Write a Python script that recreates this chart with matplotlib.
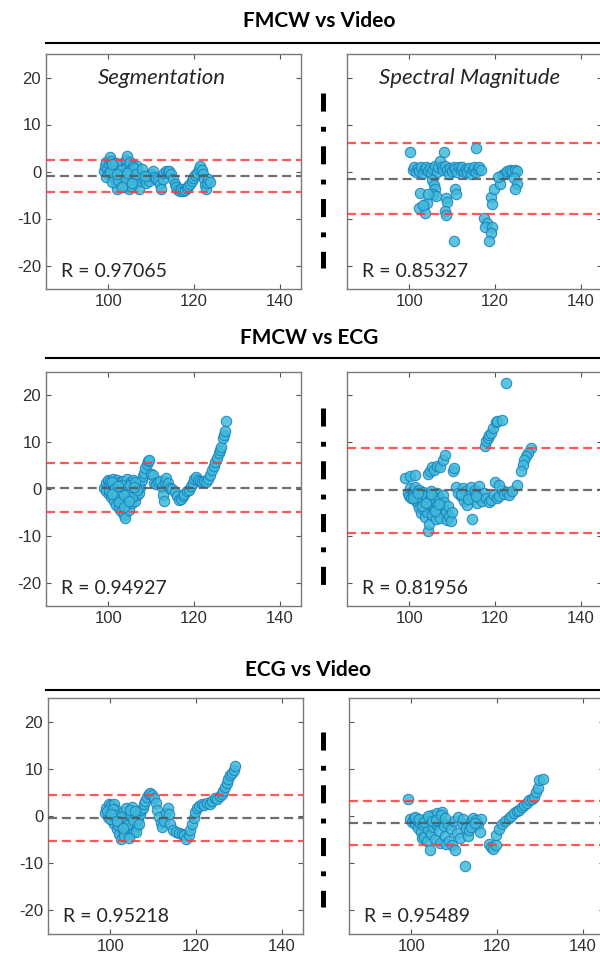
import matplotlib
matplotlib.use("Agg")
import matplotlib.pyplot as plt
from matplotlib.lines import Line2D

plt.rcParams["lines.scale_dashes"] = False
plt.rcParams["axes.unicode_minus"] = False

# Bland-Altman style panels: x = mean HR, y = difference

# FMCW vs Video, segmentation
seg_fv_x = [99.0, 99.3, 99.5, 99.8, 100.0, 100.2, 100.5, 100.7, 100.9, 101.1, 101.3, 101.5, 101.7, 101.9,
            102.1, 102.3, 102.5, 102.7, 102.9, 103.1, 103.3, 103.5, 103.7, 103.9, 104.1, 104.3, 104.5,
            104.7, 104.9, 105.1, 105.3, 105.5, 105.7, 105.9, 106.1, 106.4, 106.7, 107.0, 107.3, 107.6,
            108.0, 108.4, 108.8, 109.2, 109.6, 110.0, 110.4, 110.8, 111.2, 111.6, 112.0, 112.3, 112.7,
            113.1, 113.5, 113.9, 114.3, 114.7, 115.1, 115.5, 115.9, 116.3, 116.7, 117.1, 117.5, 117.9,
            118.3, 118.7, 119.1, 119.5, 119.9, 120.3, 120.7, 121.1, 121.5, 121.8, 122.1, 122.4, 122.6,
            122.8, 123.1, 123.4, 123.7,
            99.6, 100.4, 101.0, 101.8, 102.4, 103.0, 103.6, 104.2, 104.8, 105.4, 106.0, 100.8,
            102.0, 103.2, 104.4, 105.6, 106.6, 107.8, 108.6]
seg_fv_y = [0.2, 1.2, 2.0, 0.5, -0.5, 1.5, 3.1, 2.2, 0.8, -0.8, 1.0, -1.5, 0.3, -2.5,
            -3.8, -1.0, 0.6, 1.4, -0.3, -2.0, 0.9, 1.8, -0.6, -3.2, 2.5, 3.2, 1.0,
            -1.2, -3.8, 2.0, 0.2, -1.8, 1.2, -0.4, -2.6, 0.6, 1.2, -1.5, -3.8, -2.0,
            -0.8, -1.6, -2.4, -1.0, -2.0, -0.5, 0.1, -1.2, -1.6, -2.0, -2.6, -3.8, -1.5,
            -0.4, 0.1, -0.2, 0.1, -0.5, -1.6, -2.6, -3.4, -4.0, -4.2, -3.8, -4.2, -4.0,
            -3.6, -3.0, -2.6, -2.0, -1.4, -0.8, -0.3, 0.6, 1.2, 0.4, -0.6, -1.5, -2.8,
            -3.8, -2.5, -1.6, -2.2,
            -1.2, 0.0, -2.2, 1.8, -1.8, 0.4, -2.8, -1.6, 0.2, -3.0, 0.8, 1.6,
            -0.6, -3.4, -0.4, -2.4, -0.6, 0.6, -1.0]

# FMCW vs Video, spectral magnitude
spec_fv_x = [100.8, 101.2, 101.6, 102.0, 102.4, 102.8, 103.2, 103.6, 104.0, 104.4, 104.8, 105.2,
             105.6, 106.0, 106.4, 106.8, 107.2, 107.6, 108.0, 108.4, 108.8, 109.2, 109.6, 110.0,
             110.4, 110.8, 111.2, 111.6, 112.0, 112.4, 112.8, 113.2, 113.6, 114.0, 114.4, 114.8,
             115.2, 115.6, 116.0, 116.4, 116.8,
             100.2, 108.2, 115.7, 105.4, 105.8, 106.0, 105.6, 106.2, 102.6, 104.1, 102.2, 103.7,
             103.3, 104.4, 110.7, 110.9, 108.6, 108.8, 108.3, 108.6, 110.5, 117.4, 118.2, 117.8,
             119.4, 119.0, 118.6, 119.0, 119.4, 119.8, 121.3, 121.7, 122.3, 122.9, 123.5, 124.1,
             124.7, 125.2, 124.4, 125.2, 124.8, 120.8]
spec_fv_y = [0.3, 1.0, 0.0, 0.8, 0.2, 1.0, -0.3, 0.6, 1.0, 0.1, 0.8, -0.4,
             0.5, 1.2, 0.0, 0.9, 2.2, 1.0, 0.4, 1.1, 0.3, -0.5, 0.8, 0.2,
             1.0, 0.6, 0.0, 0.9, 0.3, 1.0, -0.2, 0.5, 0.0, 0.8, -0.6, 0.3,
             0.9, 0.0, 0.5, 1.0, 0.4,
             4.2, 4.2, 5.0, -1.8, -2.8, -3.8, -4.8, -5.3, -4.5, -6.7, -7.7, -8.8,
             -7.2, -4.8, -3.7, -4.8, -5.6, -6.5, -8.3, -9.2, -14.8, -9.8, -10.9, -11.9,
             -11.9, -13.0, -14.8, -5.5, -6.9, -3.7, -2.6, -0.8, -0.3, 0.2, 0.3, 0.2,
             0.3, 0.2, -1.3, -2.6, -3.7, -1.2]

# FMCW vs ECG, segmentation
seg_fe_x = [99.1, 99.4, 99.6, 99.9, 100.1, 100.3, 100.5, 100.7, 100.9, 101.1, 101.3, 101.5, 101.7,
            101.9, 102.1, 102.3, 102.5, 102.7, 102.9, 103.1, 103.3, 103.5, 103.7, 103.9, 104.1, 104.3,
            104.5, 104.7, 104.9, 105.1, 105.3, 105.5, 105.7, 105.9, 106.1, 106.3, 106.5, 106.7, 106.9,
            107.1, 107.3, 107.5, 107.8, 108.1, 108.4, 108.7, 109.0, 109.3, 109.6, 110.0, 110.4, 110.8,
            111.2, 111.6, 112.0, 112.5, 112.8, 113.0, 113.3, 113.6, 114.0, 114.5, 115.0, 115.5, 116.0,
            116.5, 117.0, 117.4, 117.8, 118.3, 118.9, 119.3, 119.7, 120.1, 120.5, 120.9, 121.4, 121.9,
            122.4, 122.9, 123.4, 123.8, 124.2, 124.6, 125.0, 125.4, 125.8, 126.1, 126.4, 126.7, 127.0,
            127.3, 127.6,
            100.2, 100.8, 101.4, 102.0, 102.6, 103.2, 103.8, 104.4, 105.0, 105.6, 106.2, 106.8,
            101.0, 102.4, 103.6, 104.8, 106.0]
seg_fe_y = [0.3, 1.2, -0.5, 2.0, 0.8, -1.0, 1.8, -1.8, 0.4, 2.2, -2.6, 1.0, -0.6,
            -3.4, 2.0, 0.0, -4.0, 1.5, -1.5, -4.8, -2.2, 1.8, -5.6, -6.1, -3.5, 0.5,
            2.1, -2.0, -4.5, -0.8, 1.5, -3.0, 2.0, -1.5, -0.2, -2.6, 1.0, -1.2, 0.3,
            -0.8, 1.2, 0.4, 2.0, 2.8, 3.5, 4.5, 5.3, 6.0, 6.3, 3.2, 3.0, 1.3,
            1.0, 1.6, 1.8, 0.5, -1.2, -2.6, 1.5, 2.3, 1.2, 0.3, 0.0, -0.7, -1.5,
            -2.3, -2.1, -1.4, -1.0, -0.4, -0.3, 0.6, 1.3, 2.2, 2.6, 2.0, 1.7, 1.6,
            1.7, 1.5, 2.2, 3.0, 4.0, 4.9, 5.8, 6.7, 7.6, 8.4, 9.0, 10.8, 11.6,
            12.4, 14.5,
            -0.2, 1.4, 0.0, -1.2, -2.8, 0.8, -3.8, -1.0, 0.8, -1.8, 1.6, -0.2,
            -1.0, 0.6, -1.2, -2.6, 0.4]

# FMCW vs ECG, spectral magnitude
spec_fe_x = [99.7, 100.0, 100.3, 100.5, 100.8, 101.0, 101.3, 101.5, 101.7, 102.0, 102.2, 102.4,
             102.6, 102.8, 103.0, 103.2, 103.4, 103.6, 103.8, 104.0, 104.2, 104.4, 104.6, 104.8,
             105.0, 105.2, 105.4, 105.6, 105.8, 106.0, 106.2, 106.4, 106.6, 106.8, 107.0, 107.3,
             107.6, 107.9, 108.2, 108.5, 108.8, 109.1, 109.4, 109.7, 110.0,
             111.0, 111.5, 112.0, 112.5, 112.8, 113.2, 113.6, 114.0, 114.4, 114.7, 115.0, 115.4,
             115.8, 116.2, 116.6, 117.0, 117.5, 118.0, 118.6, 119.2, 119.8, 120.4, 121.0, 121.6,
             122.2, 122.8, 123.4, 124.0, 125.2,
             99.0, 100.2, 101.4, 104.5, 104.9, 105.3, 105.8, 106.5, 107.3, 108.0, 108.4, 110.3,
             110.5, 120.0, 120.9, 117.8, 118.0, 118.3, 118.6, 119.0, 119.5, 120.2, 120.6, 121.6,
             122.7, 128.5, 127.8, 127.2, 126.8, 126.6, 126.1,
             101.0, 102.0, 103.0, 104.0, 105.0, 106.0, 107.0, 112.2, 113.8, 115.6]
spec_fe_y = [-0.8, -1.5, 0.2, -2.0, -0.5, -1.2, 0.4, -2.5, -1.0, -3.2, -0.3, -4.0,
             -1.8, -5.2, -2.6, -0.6, -4.4, -3.0, -6.0, -1.4, -5.0, -8.9, -7.4, -2.2,
             -3.6, -0.4, -5.6, -1.6, -4.2, -2.8, -6.4, -0.8, -3.4, -5.2, -2.0, -6.2,
             -4.0, -1.2, -2.8, -5.0, -6.6, -3.6, -5.8, -6.8, -5.0,
             0.5, -0.8, -1.6, 0.2, -2.6, -0.5, -3.4, -1.2, 0.4, -6.4, -2.2, -0.2,
             -3.0, 0.6, -1.8, -2.6, -0.9, -2.0, -2.8, -2.4, -1.2, -2.0, -1.6, -0.2,
             -1.0, -0.6, -1.2, -0.5, 0.8,
             2.4, 2.8, 2.9, 3.1, 3.8, 4.8, 4.0, 5.0, 4.8, 6.3, 7.3, 3.8,
             4.4, 1.5, 0.9, 9.2, 10.3, 11.0, 11.5, 12.0, 13.0, 14.3, 14.5, 14.8,
             22.7, 8.8, 7.7, 7.0, 6.3, 5.2, 3.8,
             -2.0, -0.8, -3.6, -3.0, -1.0, -4.6, -3.2, -1.0, -2.2, -1.4]

# ECG vs Video, segmentation
seg_ev_x = [98.8, 99.1, 99.4, 99.7, 100.0, 100.2, 100.5, 100.8, 101.0, 101.3, 101.5, 101.8, 102.0,
            102.3, 102.5, 102.8, 103.0, 103.2, 103.5, 103.7, 104.0, 104.2, 104.5, 104.7, 105.0, 105.2,
            105.5, 105.7, 106.0, 106.3, 106.6, 107.0, 107.3, 107.6, 107.9, 108.2, 108.6, 109.0, 109.4,
            109.8, 110.2, 110.6, 111.0, 111.4, 111.8, 112.2, 112.6, 113.0, 113.4, 113.7, 114.0, 114.6,
            115.3, 116.0, 116.7, 117.3, 117.8, 118.3, 118.7, 119.1, 119.5, 119.9, 120.3, 120.8, 121.4,
            122.0, 122.6, 123.2, 123.8, 124.4, 125.0, 125.6, 126.0, 126.4, 126.8, 127.2, 127.6, 128.0,
            128.4, 128.8, 129.2,
            99.2, 99.9, 100.6, 101.2, 101.9, 102.6, 103.3, 104.0, 104.6, 105.3, 106.0, 106.8,
            100.3, 101.6, 102.9, 104.3, 105.8]
seg_ev_y = [0.6, 1.8, -0.3, 2.6, 1.0, 2.3, -0.8, 2.6, -1.8, 1.2, -2.8, 0.2, -3.8,
            -1.2, -4.8, -2.5, 0.8, -3.4, -1.5, 1.8, -0.4, -2.8, -3.8, 0.4, 2.0, -2.0,
            -3.2, 0.0, -1.0, -2.2, -0.6, 0.4, 1.2, 1.8, 2.6, 3.2, 4.0, 4.6, 4.8,
            4.4, 3.8, 2.7, 1.3, -0.3, -1.4, -2.4, -1.0, 0.6, 1.6, 0.4, -1.8, -3.0,
            -3.4, -3.6, -3.8, -4.0, -4.8, -4.0, -3.0, -1.8, -0.4, 0.8, 1.6, 2.2, 2.6,
            2.4, 2.8, 2.6, 3.2, 3.8, 3.6, 4.2, 4.6, 5.4, 6.2, 7.0, 7.8, 8.6,
            9.2, 9.8, 10.5,
            1.0, -0.6, 1.4, 0.2, -2.0, -0.2, -4.2, -2.0, 1.2, -0.8, -3.4, -1.6,
            0.4, -1.0, -2.6, -4.6, 1.0]

# ECG vs Video, spectral magnitude
spec_ev_x = [99.3, 99.8, 100.2, 100.6, 101.0, 101.3, 101.6, 102.0, 102.3, 102.6, 102.8, 103.1,
             103.4, 103.7, 104.0, 104.4, 104.6, 104.9, 105.2, 105.5, 105.8, 106.1, 106.4, 106.7,
             107.0, 107.3, 107.6, 107.9, 108.2, 108.5, 108.9, 109.2, 109.6, 110.0, 110.3, 110.7,
             111.0, 111.4, 111.8, 112.2, 112.6, 112.9, 113.3, 113.6, 114.0, 114.4, 114.8, 115.2,
             115.6, 116.0, 116.4, 118.1, 118.6, 119.2, 119.7, 119.7, 120.5, 121.2, 122.0, 122.8,
             123.4, 124.0, 124.6, 125.2, 125.8, 126.4, 127.0, 127.5, 128.1, 128.7, 129.1, 129.5,
             129.9, 130.7,
             100.9, 101.9, 102.9, 103.9, 104.9, 105.9, 106.9, 107.9, 113.9, 115.0]
spec_ev_y = [3.5, -0.6, -1.2, -0.4, -1.8, -0.8, -2.6, -1.4, -3.4, -4.6, -2.0, -4.4,
             -0.6, -5.4, -2.8, -7.3, -3.8, 0.2, -2.4, -4.8, -1.6, 0.6, -3.2, -5.8,
             -1.0, 0.8, -2.2, -4.2, -6.0, -1.6, -5.2, -2.8, -6.2, -1.0, -7.3, -3.6,
             -0.2, -4.6, -1.4, -0.6, -10.5, -2.6, -4.2, -3.0, -1.2, -0.4, -2.0, -0.8,
             -1.6, -3.4, -0.6, -5.9, -6.6, -7.0, -6.2, -4.1, -2.7, -1.7, -1.0, -0.4,
             0.0, 0.6, 1.0, 1.3, 1.9, 2.4, 2.8, 3.4, 3.6, 4.1, 5.0, 5.9,
             7.6, 7.8,
             -0.2, -0.6, -1.2, 0.0, -1.0, -0.8, 0.2, -0.4, -2.4, -1.4]

# mean difference and limits of agreement (upper, lower) per panel
bias = [-0.9, -1.5, 0.3, -0.3, -0.35, -1.45]
loa_hi = [2.45, 6.1, 5.6, 8.7, 4.5, 3.2]
loa_lo = [-4.35, -9.1, -4.9, -9.3, -5.2, -6.1]
r_values = ["0.97065", "0.85327", "0.94927", "0.81956", "0.95218", "0.95489"]
row_titles = ["FMCW vs Video", "FMCW vs ECG", "ECG vs Video"]
method_names = ["Segmentation", "Spectral Magnitude"]

panels = [(seg_fv_x, seg_fv_y), (spec_fv_x, spec_fv_y),
          (seg_fe_x, seg_fe_y), (spec_fe_x, spec_fe_y),
          (seg_ev_x, seg_ev_y), (spec_ev_x, spec_ev_y)]

W, H = 600, 960
fig = plt.figure(figsize=(W / 100, H / 100), dpi=100)

# pixel layout: (axes top, axes bottom, left col left, right col left, rule y, title y, title x)
rows = [(54, 289, 46, 347, 43, 21, 319),
        (372, 606, 46, 347, 358, 338, 309),
        (698, 934, 48, 349, 690, 670, 308)]
seps = [(93, 268), (408, 587), (732, 907)]
ax_w = 255
dash = (0, (6.5, 3.5))

for r, (top, bot, l0, l1, rule_y, ty, tx) in enumerate(rows):
    fig.text(tx / W, 1 - ty / H, row_titles[r], ha="center", va="center",
             fontsize=15, fontweight="bold", family="Lato")
    fig.add_artist(Line2D([46 / W, 1.0], [1 - rule_y / H] * 2, color="black", lw=1.5))
    sep = Line2D([323 / W] * 2, [1 - seps[r][0] / H, 1 - seps[r][1] / H],
                 color="black", lw=3.6, solid_capstyle="butt", dash_capstyle="butt")
    sep.set_dashes((13, 11, 3.5, 10.5))
    fig.add_artist(sep)
    for c, left in enumerate([l0, l1]):
        k = r * 2 + c
        ax = fig.add_axes([left / W, 1 - bot / H, ax_w / W, (bot - top) / H])
        xs, ys = panels[k]
        ax.scatter(xs, ys, s=56, facecolor="#3fbad8", edgecolor="#1a7fc0",
                   linewidth=0.8, alpha=0.85, zorder=2)
        ax.axhline(loa_hi[k], color="#ff3b3b", ls=dash, lw=1.6, alpha=0.85, zorder=3)
        ax.axhline(loa_lo[k], color="#ff3b3b", ls=dash, lw=1.6, alpha=0.85, zorder=3)
        ax.axhline(bias[k], color="#555555", ls=dash, lw=1.6, alpha=0.85, zorder=3)
        ax.set_xlim(85.5, 145)
        ax.set_ylim(-25, 25)
        ax.set_xticks([100, 120, 140])
        ax.set_yticks([-20, -10, 0, 10, 20])
        ax.tick_params(direction="in", top=True, right=True, length=3.5, width=0.8,
                       color="#555555", labelcolor="#303030", labelsize=12)
        for lab in ax.get_xticklabels() + ax.get_yticklabels():
            lab.set_family("Liberation Sans")
        if c == 1:
            ax.set_yticklabels([])
        for sp in ax.spines.values():
            sp.set_color("#7a7a7a")
            sp.set_linewidth(1.0)
        ax.text(0.06, 0.075, "R = " + r_values[k], transform=ax.transAxes,
                fontsize=14, family="Lato", color="#262626", va="center", ha="left")
        if r == 0:
            ax.text(0.455 if c == 0 else 0.482, 0.898, method_names[c], transform=ax.transAxes,
                    fontsize=16, family="Lato", style="italic", color="#262626",
                    ha="center", va="center")

fig.savefig("out.png", dpi=100)
